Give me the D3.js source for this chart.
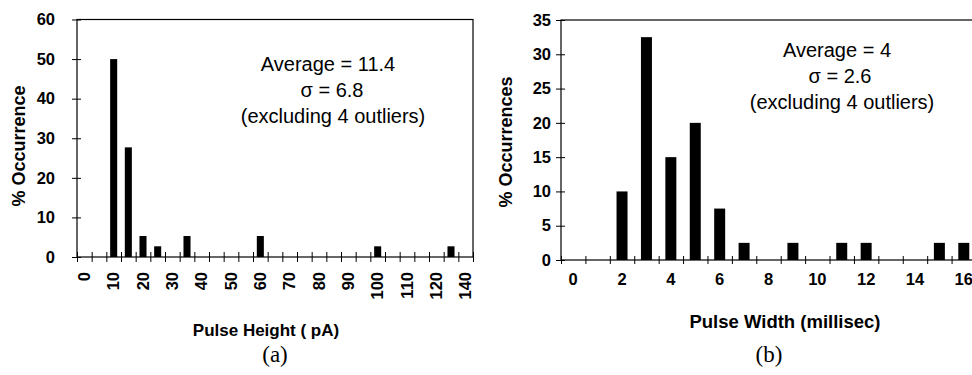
<!DOCTYPE html>
<html><head><meta charset="utf-8">
<script src="https://cdn.jsdelivr.net/npm/d3@7"></script>
<style>
body{margin:0;background:#fff}
svg{display:block}
text{font-family:"Liberation Sans",Arial,sans-serif;fill:#000}
</style>
</head><body>
<svg id="c" width="972" height="375"></svg>
<script>
// ---- Panel (a): pulse height ----
const heightBins = ["0","5","10","15","20","25","30","35","40","45","50","55","60","65","70","75","80","85","90","95","100","105","110","115","120","125","130"];
const heightValues = [0,0,50,27.7,5.3,2.7,0,5.3,0,0,0,0,5.3,0,0,0,0,0,0,0,2.7,0,0,0,0,2.7,0];
const heightTickBins = ["0","10","20","30","40","50","60","70","80","90","100","110","120","130"];
const heightTickLabels = ["0","10","20","30","40","50","60","70","80","90","100","110","120","140"];
const heightYTicks = [0,10,20,30,40,50,60];

// ---- Panel (b): pulse width ----
const widthBins = ["0","1","2","3","4","5","6","7","8","9","10","11","12","13","14","15","16"];
const widthValues = [0,0,10,32.5,15,20,7.5,2.5,0,2.5,0,2.5,2.5,0,0,2.5,2.5];
const widthTickBins = ["0","2","4","6","8","10","12","14","16"];
const widthTickLabels = ["0","2","4","6","8","10","12","14","16"];
const widthYTicks = [0,5,10,15,20,25,30,35];

const svg = d3.select("#c");

function panel(o) {
  const g = svg.append("g");
  const x = d3.scaleBand().domain(o.bins).range([o.left, o.right]).padding(0);
  const y = d3.scaleLinear().domain([0, o.yMax]).range([o.bottom, o.top]);
  const idx = d3.scaleLinear().domain([0, o.bins.length]).range([o.left, o.right]);

  // frame
  g.append("rect").attr("x", o.left).attr("y", o.top)
    .attr("width", o.right - o.left).attr("height", o.bottom - o.top)
    .attr("fill", "none").attr("stroke", "#000").attr("stroke-width", 1.2);

  // bars
  const bw = x.bandwidth() * o.barFrac;
  g.selectAll("rect.bar").data(o.bins.map((b, i) => ({b, v: o.values[i]})).filter(d => d.v > 0))
    .enter().append("rect").attr("class", "bar")
    .attr("x", d => x(d.b) + (x.bandwidth() - bw) / 2)
    .attr("width", bw)
    .attr("y", d => y(d.v))
    .attr("height", d => y(0) - y(d.v))
    .attr("fill", "#000");

  // y axis
  const ya = g.append("g").attr("transform", `translate(${o.left},0)`)
    .call(d3.axisLeft(y).tickValues(o.yTicks).tickSize(5).tickSizeOuter(0).tickPadding(o.yPad));
  ya.select(".domain").remove();
  ya.selectAll(".tick line").attr("x1", 4).attr("stroke", "#000");
  ya.selectAll("text").attr("font-size", 16.5).attr("font-weight", "bold")
    .style("font-family", '"Liberation Sans",Arial,sans-serif');

  // x boundary ticks
  const xb = g.append("g").attr("transform", `translate(0,${o.bottom})`)
    .call(d3.axisBottom(idx).tickValues(d3.range(o.bins.length + 1)).tickSize(o.xTick).tickFormat(""));
  xb.select(".domain").remove();
  xb.selectAll(".tick line").attr("y1", -o.xTick).attr("stroke", "#000");

  // x labels
  const labelMap = new Map(o.tickBins.map((b, i) => [b, o.tickLabels[i]]));
  const xa = g.append("g").attr("transform", `translate(0,${o.bottom})`)
    .call(d3.axisBottom(x).tickValues(o.tickBins).tickFormat(d => labelMap.get(d)).tickSize(0));
  xa.select(".domain").remove();
  const xt = xa.selectAll("text").attr("font-size", 16.5).attr("font-weight", "bold")
    .style("font-family", '"Liberation Sans",Arial,sans-serif');
  if (o.rotate) {
    xt.attr("transform", "rotate(-90)").attr("text-anchor", "end")
      .attr("x", -o.xLabelOff).attr("y", 0).attr("dy", "0.35em");
  } else {
    xt.attr("y", o.xLabelOff).attr("dy", 0);
  }

  // axis titles
  g.append("text").attr("transform", `translate(${o.yTitle[0]},${o.yTitle[1]}) rotate(-90)`)
    .attr("text-anchor", "middle").attr("dy", "0.35em")
    .attr("font-size", 18).attr("font-weight", "bold").text(o.yTitleText);
  g.append("text").attr("x", o.xTitle[0]).attr("y", o.xTitle[1])
    .attr("text-anchor", "middle").attr("font-size", o.xTitleSize).attr("font-weight", "bold").text(o.xTitleText);

  // annotation
  o.note.forEach(n => {
    g.append("text").attr("x", n[0]).attr("y", n[1]).attr("text-anchor", "middle")
      .attr("font-size", 20).text(n[2]);
  });

  // caption
  g.append("text").attr("x", o.caption[0]).attr("y", o.caption[1]).attr("text-anchor", "middle")
    .style("font-family", '"Liberation Serif","Times New Roman",serif')
    .attr("font-size", 23).text(o.captionText);
}

panel({
  bins: heightBins, values: heightValues, tickBins: heightTickBins, tickLabels: heightTickLabels,
  yMax: 60, yTicks: heightYTicks, left: 77, right: 473, top: 19.5, bottom: 257,
  barFrac: 0.48, yPad: 17, xTick: 5, rotate: true, xLabelOff: 15,
  yTitle: [19, 146], yTitleText: "% Occurrence",
  xTitle: [266, 336], xTitleText: "Pulse Height ( pA)", xTitleSize: 17,
  note: [[328, 71, "Average = 11.4"], [332, 97, "σ = 6.8"], [333, 123, "(excluding 4 outliers)"]],
  caption: [275, 362], captionText: "(a)"
});

panel({
  bins: widthBins, values: widthValues, tickBins: widthTickBins, tickLabels: widthTickLabels,
  yMax: 35, yTicks: widthYTicks, left: 561, right: 976, top: 20, bottom: 260,
  barFrac: 0.45, yPad: 5, xTick: 4, rotate: false, xLabelOff: 25,
  yTitle: [506, 142], yTitleText: "% Occurrences",
  xTitle: [785, 328], xTitleText: "Pulse Width (millisec)", xTitleSize: 18.5,
  note: [[837, 57, "Average = 4"], [840, 83, "σ = 2.6"], [842, 109, "(excluding 4 outliers)"]],
  caption: [769, 362], captionText: "(b)"
});
</script>
</body></html>
